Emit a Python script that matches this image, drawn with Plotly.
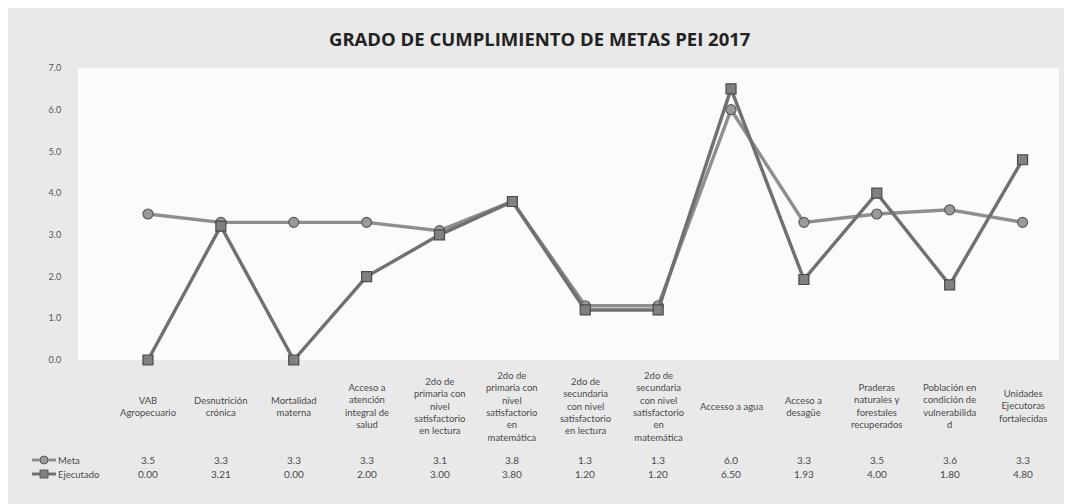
import plotly.graph_objects as go

title = "GRADO DE CUMPLIMIENTO DE METAS PEI 2017"
categories = [
    "VAB<br>Agropecuario",
    "Desnutrición<br>crónica",
    "Mortalidad<br>materna",
    "Acceso a<br>atención<br>integral de<br>salud",
    "2do de<br>primaria con<br>nivel<br>satisfactorio<br>en lectura",
    "2do de<br>primaria con<br>nivel<br>satisfactorio<br>en<br>matemática",
    "2do de<br>secundaria<br>con nivel<br>satisfactorio<br>en lectura",
    "2do de<br>secundaria<br>con nivel<br>satisfactorio<br>en<br>matemática",
    "Accesso a agua",
    "Acceso a<br>desagüe",
    "Praderas<br>naturales y<br>forestales<br>recuperados",
    "Población en<br>condición de<br>vulnerabilida<br>d",
    "Unidades<br>Ejecutoras<br>fortalecidas",
]
meta = [3.5, 3.3, 3.3, 3.3, 3.1, 3.8, 1.3, 1.3, 6.0, 3.3, 3.5, 3.6, 3.3]
ejecutado = [0.00, 3.21, 0.00, 2.00, 3.00, 3.80, 1.20, 1.20, 6.50, 1.93, 4.00, 1.80, 4.80]
series_names = ["Meta", "Ejecutado"]
y_ticks = [0, 1, 2, 3, 4, 5, 6, 7]

keys = [str(i) for i in range(len(categories))]
FONT = "Lato"
TXT = "#4a4a4a"

# layout geometry (pixels) for decoration placement
L, R, T, B = 70, 20.5, 60, 152
W = 1072 - L - R
H = 504 - T - B
x0, x1 = -0.96, 12.5
def pxp(px):
    return (px - L) / W
def pyp(py):
    return (504 - B - py) / H

fig = go.Figure()
fig.add_trace(go.Scatter(
    x=keys, y=meta, name=series_names[0], mode="lines+markers",
    line=dict(color="#8e8e8e", width=3.4),
    marker=dict(symbol="circle", size=10, color="#9a9a9a", line=dict(color="#5a5a5a", width=1.2)),
    cliponaxis=False, showlegend=False))
fig.add_trace(go.Scatter(
    x=keys, y=ejecutado, name=series_names[1], mode="lines+markers",
    line=dict(color="#707070", width=3.4),
    marker=dict(symbol="square", size=10, color="#808080", line=dict(color="#4a4a4a", width=1.2)),
    cliponaxis=False, showlegend=False))

ann = []
for k, c, m, e in zip(keys, categories, meta, ejecutado):
    ann.append(dict(x=k, y=pyp(398), xref="x", yref="paper", text=c, showarrow=False,
                    yanchor="middle", xanchor="center", align="center",
                    font=dict(family=FONT, size=9.5, color=TXT)))
    ann.append(dict(x=k, y=pyp(452), xref="x", yref="paper", text=f"{m:.1f}", showarrow=False,
                    yanchor="middle", font=dict(family=FONT, size=10, color=TXT)))
    ann.append(dict(x=k, y=pyp(466), xref="x", yref="paper", text=f"{e:.2f}", showarrow=False,
                    yanchor="middle", font=dict(family=FONT, size=10, color=TXT)))

shapes = []
rows = [(452, "circle", "#9a9a9a", "#8e8e8e"), (466, "square", "#808080", "#707070")]
for name, (py, sym, mcol, lcol) in zip(series_names, rows):
    yv = pyp(py)
    shapes.append(dict(type="line", xref="paper", yref="paper", x0=pxp(24), x1=pxp(48),
                       y0=yv, y1=yv, line=dict(color=lcol, width=3)))
    dx, dy = 4 / W, 4 / H
    cx = pxp(36)
    shapes.append(dict(type="circle" if sym == "circle" else "rect", xref="paper", yref="paper",
                       x0=cx - dx, x1=cx + dx, y0=yv - dy, y1=yv + dy,
                       fillcolor=mcol, line=dict(color="#5a5a5a", width=1)))
    ann.append(dict(x=pxp(48), y=yv, xref="paper", yref="paper", text=name, showarrow=False,
                    xanchor="left", yanchor="middle", font=dict(family=FONT, size=9.5, color=TXT)))

ann.append(dict(x=pxp(532), y=pyp(30), xref="paper", yref="paper", text=f"<b>{title}</b>",
                showarrow=False, xanchor="center", yanchor="middle",
                font=dict(family="Open Sans", size=18.5, color="#222222")))

fig.update_layout(
    width=1072, height=504,
    margin=dict(l=L, r=R, t=T, b=B),
    paper_bgcolor="#e9e9e9", plot_bgcolor="#fbfbfb",
    annotations=ann, shapes=shapes,
    xaxis=dict(type="category", range=[x0, x1], showticklabels=False, showgrid=False,
               zeroline=False, showline=False),
    yaxis=dict(range=[0, 7], tickvals=y_ticks, ticktext=[f"{v:.1f}" for v in y_ticks],
               showgrid=False, zeroline=False, showline=False, ticks="outside", ticklen=14,
               tickcolor="rgba(0,0,0,0)",
               tickfont=dict(family=FONT, size=9, color="#555555")),
    font=dict(family=FONT),
)
fig.write_html("out.html")
